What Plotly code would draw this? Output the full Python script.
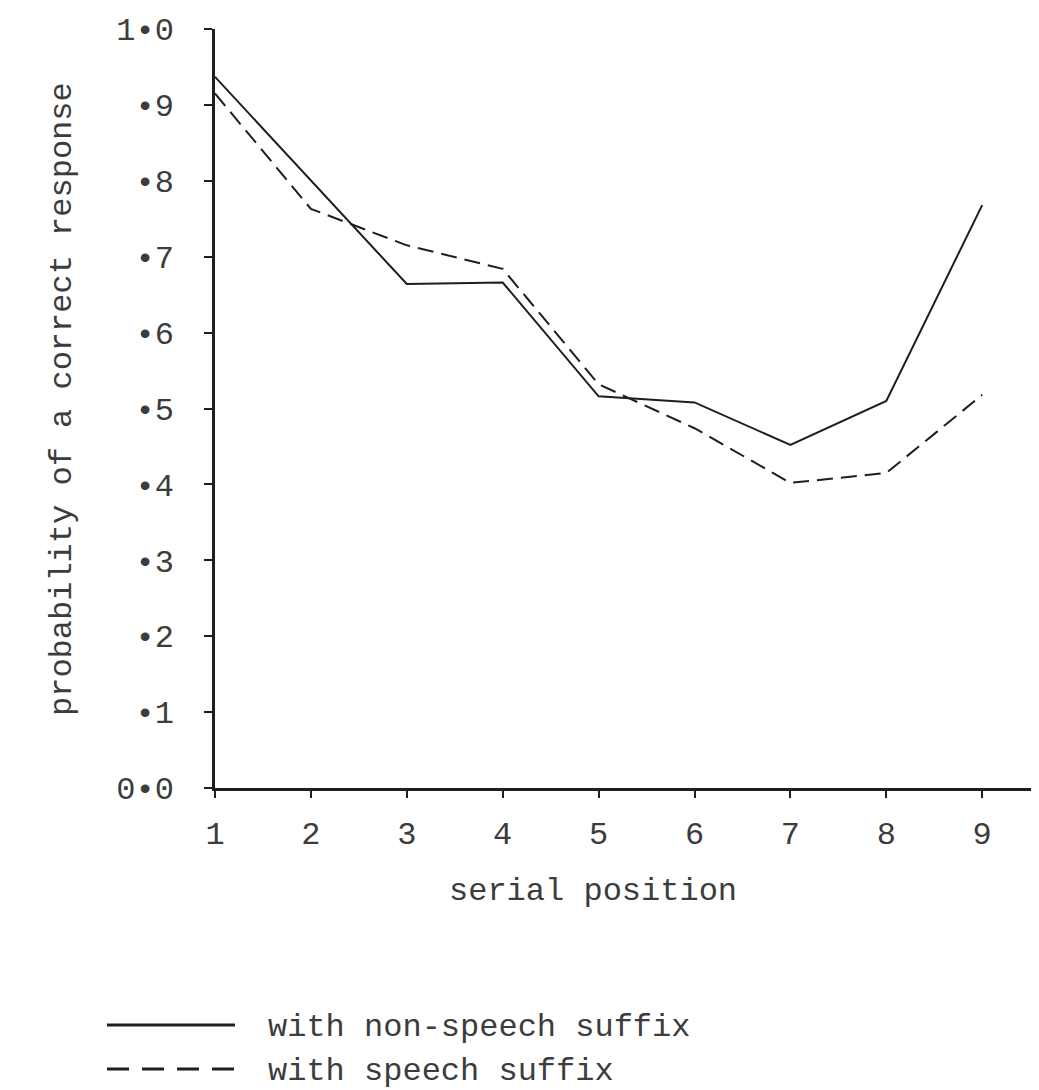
import plotly.graph_objects as go

# ---- data ----
serial_position = [1, 2, 3, 4, 5, 6, 7, 8, 9]
non_speech_suffix = [0.937, 0.80, 0.664, 0.666, 0.516, 0.508, 0.452, 0.510, 0.768]
speech_suffix = [0.915, 0.763, 0.715, 0.684, 0.532, 0.474, 0.402, 0.415, 0.518]

y_tick_vals = [0.0, 0.1, 0.2, 0.3, 0.4, 0.5, 0.6, 0.7, 0.8, 0.9, 1.0]
y_tick_text = ["0•0", "•1", "•2", "•3", "•4", "•5", "•6", "•7", "•8", "•9", "1•0"]
x_tick_text = ["1", "2", "3", "4", "5", "6", "7", "8", "9"]

series_names = ["with non-speech suffix", "with speech suffix"]
x_title = "serial position"
y_title = "probability of a correct response"

# ---- layout constants (page body has an 8px margin) ----
OFF = 8
W, H = 1039 - OFF, 1090 - OFF
ML, MR, MT, MB = 215 - OFF, 0, 29 - OFF, 302
PW, PH = W - ML - MR, H - MT - MB
FONT = "Liberation Mono, Courier New, monospace"
INK = "#1e1e1e"
TXT = "#3c3c3c"
BG = "#ffffff"


def px(xs):
    return (xs - OFF - ML) / PW


def py(ys):
    return (H - MB - (ys - OFF)) / PH


fig = go.Figure()
fig.add_trace(go.Scatter(x=serial_position, y=non_speech_suffix, mode="lines",
                         line=dict(color=INK, width=2), name=series_names[0],
                         showlegend=False))
fig.add_trace(go.Scatter(x=serial_position, y=speech_suffix, mode="lines",
                         line=dict(color=INK, width=2, dash="16px,8px"),
                         name=series_names[1], showlegend=False))

fig.update_layout(
    width=W, height=H,
    margin=dict(l=ML, r=MR, t=MT, b=MB, pad=0),
    paper_bgcolor=BG, plot_bgcolor=BG,
    font=dict(family=FONT, size=32, color=TXT),
    showlegend=False,
)
fig.update_xaxes(
    range=[1, 1 + PW / 95.9], tickvals=serial_position, ticktext=x_tick_text,
    showline=True, linecolor=INK, linewidth=2.5, showgrid=False, zeroline=False,
    ticks="outside", ticklen=7, tickwidth=2, tickcolor=INK,
    tickfont=dict(family=FONT, size=32, color=TXT), ticklabelstandoff=8,
)
fig.update_yaxes(
    range=[0, 1.0], tickvals=y_tick_vals, ticktext=y_tick_text,
    showline=True, linecolor=INK, linewidth=2.5, showgrid=False, zeroline=False,
    ticks="outside", ticklen=8, tickwidth=2, tickcolor=INK,
    tickfont=dict(family=FONT, size=32, color=TXT), ticklabelstandoff=24,
)

annotations = [
    dict(text=y_title, x=px(62), y=py(399), xref="paper", yref="paper",
         textangle=-90, showarrow=False, xanchor="center", yanchor="middle",
         font=dict(family=FONT, size=32, color=TXT)),
    dict(text=x_title, x=px(593), y=py(891), xref="paper", yref="paper",
         showarrow=False, xanchor="center", yanchor="middle",
         font=dict(family=FONT, size=32, color=TXT)),
    dict(text=series_names[0], x=px(266), y=py(1027), xref="paper", yref="paper",
         showarrow=False, xanchor="left", yanchor="middle",
         font=dict(family=FONT, size=32, color=TXT)),
    dict(text=series_names[1], x=px(266), y=py(1071), xref="paper", yref="paper",
         showarrow=False, xanchor="left", yanchor="middle",
         font=dict(family=FONT, size=32, color=TXT)),
]
fig.update_layout(annotations=annotations)

# legend keys
fig.add_shape(type="line", xref="paper", yref="paper",
              x0=px(107), x1=px(235), y0=py(1025), y1=py(1025),
              line=dict(color=INK, width=3))
fig.add_shape(type="line", xref="paper", yref="paper",
              x0=px(107), x1=px(235), y0=py(1069), y1=py(1069),
              line=dict(color=INK, width=3, dash="22px,13px"))

fig.write_html("out.html")
